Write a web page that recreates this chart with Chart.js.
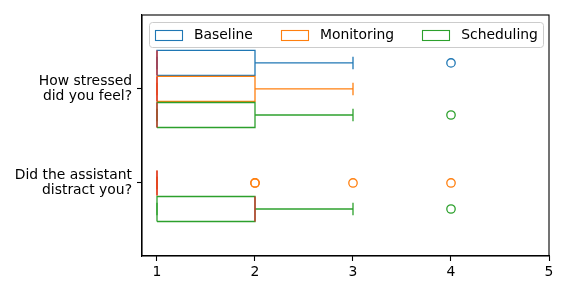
<!DOCTYPE html>
<html><head><meta charset="utf-8">
<script src="https://cdn.jsdelivr.net/npm/chart.js@4.4.1/dist/chart.umd.min.js"></script>
<style>html,body{margin:0;padding:0;background:#fff}#wrap{width:569px;height:295px}</style>
</head><body><div id="wrap"><canvas id="c" width="569" height="295"></canvas></div>
<script>
// ---- data ----
const categories = [['How stressed', 'did you feel?'], ['Did the assistant', 'distract you?']];
const seriesNames = ['Baseline', 'Monitoring', 'Scheduling'];
const xTicks = [1, 2, 3, 4, 5];
// [category][series]; null = no data
const whiskLo = [[1, 1, 1], [null, 1, 1]];
const q1      = [[1, 1, 1], [null, 1, 1]];
const median  = [[1, 1, 1], [null, 1, 2]];
const q3      = [[2, 2, 2], [null, 1, 2]];
const whiskHi = [[3, 3, 3], [null, 1, 3]];
const outliers = [[[4], [], [4]], [[], [2, 2, 3, 4], [4]]];

// ---- styles ----
const colors = ['#1f77b4', '#ff7f0e', '#2ca02c'];
const medianColor = '#d62728';
const FONT = 'DejaVu Sans';
const FS = 13.9;
const SPACING = 0.277, HALF = 0.133, CAP = 0.067, LW = 1.3;

const datasets = [];
function seg(pts, color) {
  datasets.push({type: 'line', data: pts, borderColor: color, borderWidth: LW, pointRadius: 0,
    fill: false, tension: 0, showLine: true});
}
const nC = categories.length;
// boxes, whiskers, caps
categories.forEach((cat, c) => {
  seriesNames.forEach((name, s) => {
    if (q1[c][s] === null) return;
    const yc = (nC - c) + (1 - s) * SPACING;
    const col = colors[s];
    seg([{x: q1[c][s], y: yc - HALF}, {x: q3[c][s], y: yc - HALF}, {x: q3[c][s], y: yc + HALF},
         {x: q1[c][s], y: yc + HALF}, {x: q1[c][s], y: yc - HALF}], col);
    seg([{x: whiskLo[c][s], y: yc}, {x: q1[c][s], y: yc}], col);
    seg([{x: q3[c][s], y: yc}, {x: whiskHi[c][s], y: yc}], col);
    seg([{x: whiskLo[c][s], y: yc - CAP}, {x: whiskLo[c][s], y: yc + CAP}], col);
    seg([{x: whiskHi[c][s], y: yc - CAP}, {x: whiskHi[c][s], y: yc + CAP}], col);
  });
});
// medians
categories.forEach((cat, c) => {
  seriesNames.forEach((name, s) => {
    if (median[c][s] === null) return;
    const yc = (nC - c) + (1 - s) * SPACING;
    seg([{x: median[c][s], y: yc - HALF}, {x: median[c][s], y: yc + HALF}], medianColor);
  });
});
// fliers
categories.forEach((cat, c) => {
  seriesNames.forEach((name, s) => {
    const yc = (nC - c) + (1 - s) * SPACING;
    const pts = outliers[c][s].map(v => ({x: v, y: yc}));
    if (!pts.length) return;
    datasets.push({type: 'scatter', data: pts, borderColor: colors[s], backgroundColor: 'rgba(0,0,0,0)',
      pointRadius: 4.2, pointBorderWidth: 1.3, showLine: false, pointStyle: 'circle'});
  });
});
// later datasets drawn on top
datasets.forEach((d, i) => { d.order = -i; });

const frameAndLegend = {
  id: 'frameAndLegend',
  afterDraw(chart) {
    const ctx = chart.ctx, a = chart.chartArea;
    ctx.save();
    ctx.strokeStyle = '#000'; ctx.lineWidth = 1.1;
    ctx.strokeRect(a.left, a.top, a.right - a.left, a.bottom - a.top);
    // legend
    const lx = a.left + 7, ly = a.top + 7, lw = a.right - a.left - 13, lh = 25;
    ctx.fillStyle = 'rgba(255,255,255,0.8)';
    ctx.strokeStyle = '#cccccc'; ctx.lineWidth = 1;
    ctx.beginPath();
    if (ctx.roundRect) ctx.roundRect(lx + 0.5, ly + 0.5, lw, lh, 3); else ctx.rect(lx + 0.5, ly + 0.5, lw, lh);
    ctx.fill(); ctx.stroke();
    ctx.font = FS + 'px "' + FONT + '"';
    ctx.textBaseline = 'middle'; ctx.textAlign = 'left';
    let x = lx + 6;
    const cy = ly + lh / 2 + 0.5;
    seriesNames.forEach((name, s) => {
      ctx.strokeStyle = colors[s]; ctx.lineWidth = 1.1;
      ctx.strokeRect(Math.round(x) + 0.5, Math.round(cy - 5) + 0.5, 27, 10);
      ctx.fillStyle = '#000';
      ctx.fillText(name, x + 39, cy);
      x += 39 + ctx.measureText(name).width + 28;
    });
    ctx.restore();
  }
};

Chart.defaults.font.family = FONT;
Chart.defaults.font.size = FS;
Chart.defaults.color = '#000';

new Chart(document.getElementById('c'), {
  type: 'scatter',
  data: {datasets},
  options: {
    responsive: false, animation: false, devicePixelRatio: 1,
    layout: {padding: {left: 0, right: 20, top: 15, bottom: 0}},
    plugins: {legend: {display: false}, tooltip: {enabled: false}},
    scales: {
      x: {
        type: 'linear', min: 0.847, max: 5,
        afterBuildTicks: sc => { sc.ticks = xTicks.map(v => ({value: v})); },
        afterFit: sc => { sc.height = 39; sc.paddingLeft = 0; sc.paddingRight = 0; },
        ticks: {padding: 3, color: '#000', font: {size: FS}},
        grid: {drawOnChartArea: false, drawTicks: true, tickLength: 5, tickColor: '#000', tickWidth: 1.1},
        border: {display: true, color: '#000', width: 1.1}
      },
      y: {
        type: 'linear', min: 0.223, max: 2.787,
        afterBuildTicks: sc => { sc.ticks = categories.map((c, i) => ({value: nC - i})); },
        afterFit: sc => { sc.width = 142; sc.paddingTop = 0; sc.paddingBottom = 0; },
        ticks: {padding: 5, color: '#000', font: {size: FS, lineHeight: 1.1},
          callback: v => categories[nC - v]},
        grid: {drawOnChartArea: false, drawTicks: true, tickLength: 5, tickColor: '#000', tickWidth: 1.1},
        border: {display: true, color: '#000', width: 1.1}
      }
    }
  },
  plugins: [frameAndLegend]
});
</script></body></html>
